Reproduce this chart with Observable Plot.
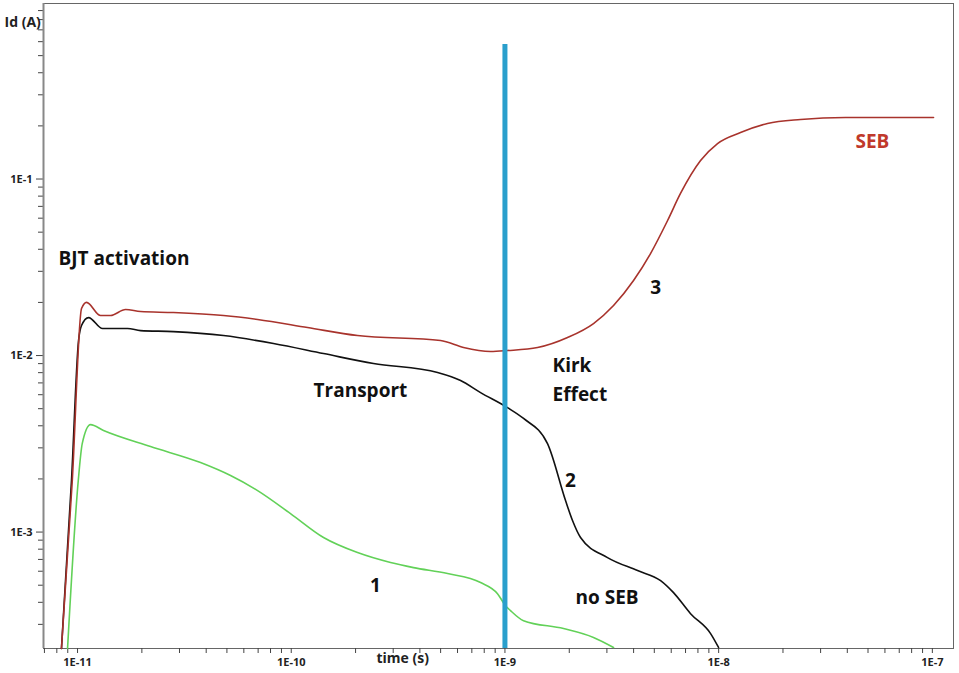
<!DOCTYPE html>
<html><head><meta charset="utf-8">
<script src="https://cdn.jsdelivr.net/npm/d3@7"></script>
<script src="https://cdn.jsdelivr.net/npm/@observablehq/plot@0.6"></script>
<style>body{margin:0;background:#fff}</style>
</head><body><div id="chart"></div>
<script>
// Curve 3 (SEB, red)
const redT = [8.41e-12, 9.45e-12, 1.044e-11, 1.102e-11, 1.281e-11, 1.427e-11, 1.678e-11, 1.972e-11, 2.812e-11, 4.82e-11, 6.96e-11, 1.192e-10, 2.042e-10, 4.996e-10, 6.40e-10, 8.56e-10, 1.028e-9, 1.421e-9, 1.963e-9, 2.597e-9, 3.223e-9, 3.998e-9, 4.80e-9, 5.77e-9, 6.63e-9, 8.23e-9, 9.88e-9, 1.266e-8, 1.693e-8, 2.416e-8, 3.926e-8, 1.013e-7];
const redI = [2.19e-4, 1.96e-3, 1.846e-2, 2.00e-2, 1.685e-2, 1.685e-2, 1.822e-2, 1.775e-2, 1.752e-2, 1.685e-2, 1.60e-2, 1.441e-2, 1.298e-2, 1.216e-2, 1.110e-2, 1.054e-2, 1.067e-2, 1.110e-2, 1.265e-2, 1.518e-2, 1.92e-2, 2.66e-2, 3.78e-2, 5.82e-2, 8.28e-2, 0.1273, 0.1589, 0.1834, 0.2063, 0.2174, 0.2231, 0.2231];
// Curve 2 (no SEB, black)
const blackT = [8.41e-12, 9.37e-12, 1.011e-11, 1.044e-11, 1.126e-11, 1.309e-11, 1.714e-11, 1.972e-11, 2.812e-11, 4.82e-11, 8.26e-11, 1.416e-10, 2.427e-10, 4.84e-10, 6.20e-10, 7.69e-10, 1.028e-9, 1.222e-9, 1.582e-9, 1.921e-9, 2.071e-9, 2.258e-9, 3.02e-9, 4.174e-9, 5.35e-9, 6.15e-9, 7.39e-9, 9.17e-9, 9.99e-9];
const blackI = [2.19e-4, 1.96e-3, 1.216e-2, 1.479e-2, 1.641e-2, 1.422e-2, 1.422e-2, 1.385e-2, 1.367e-2, 1.298e-2, 1.17e-2, 1.026e-2, 9.01e-3, 8.01e-3, 7.22e-3, 6.17e-3, 5.07e-3, 4.40e-3, 3.17e-3, 1.509e-3, 1.162e-3, 9.31e-4, 7.17e-4, 6.05e-4, 5.31e-4, 4.54e-4, 3.45e-4, 2.66e-4, 2.22e-4];
// Curve 1 (green)
const greenT = [8.98e-12, 1.008e-11, 1.052e-11, 1.15e-11, 1.323e-11, 2.196e-11, 3.763e-11, 5.20e-11, 6.96e-11, 9.92e-11, 1.416e-10, 2.043e-10, 2.915e-10, 3.735e-10, 5.39e-10, 7.69e-10, 9.23e-10, 1.006e-9, 1.062e-9, 1.222e-9, 1.880e-9, 2.597e-9, 3.223e-9];
const greenI = [2.19e-4, 1.96e-3, 3.17e-3, 4.06e-3, 3.76e-3, 3.05e-3, 2.476e-3, 2.09e-3, 1.718e-3, 1.273e-3, 9.31e-4, 7.65e-4, 6.72e-4, 6.29e-4, 5.82e-4, 5.18e-4, 4.48e-4, 3.83e-4, 3.59e-4, 3.15e-4, 2.84e-4, 2.53e-4, 2.22e-4];

// Vertical marker at 1 ns
const markerT = [1e-9];
const markerTop = [0.578];

// Tick labels
const xTickValues = [1e-11, 1e-10, 1e-9, 1e-8, 1e-7];
const xTickLabels = ["1E-11", "1E-10", "1E-9", "1E-8", "1E-7"];
const yTickValues = [1e-3, 1e-2, 1e-1];
const yTickLabels = ["1E-3", "1E-2", "1E-1"];

// Annotations
const annText = ["BJT activation", "Transport", "Kirk", "Effect", "2", "3", "1", "no SEB", "SEB"];
const annT = [8.15e-12, 1.272e-10, 1.67e-9, 1.67e-9, 2.028e-9, 5.07e-9, 2.48e-10, 2.14e-9, 4.37e-8];
const annI = [3.545e-2, 6.33e-3, 8.78e-3, 6.01e-3, 1.96e-3, 2.428e-2, 4.98e-4, 4.26e-4, 0.1631];
const annAnchor = ["start", "start", "start", "start", "middle", "middle", "middle", "start", "start"];
const annColor = ["#111", "#111", "#111", "#111", "#111", "#111", "#111", "#111", "#c0392b"];

const xDomain = [6.93e-12, 1.256e-7];
const yDomain = [2.19e-4, 0.987];

const toRows = (T, I) => T.map((t, i) => ({t, I: I[i]}));
const red = toRows(redT, redI);
const black = toRows(blackT, blackI);
const green = toRows(greenT, greenI);
const ann = annText.map((s, i) => ({s, t: annT[i], I: annI[i], anchor: annAnchor[i], color: annColor[i]}));

const xMinor = d3.scaleLog().domain(xDomain).ticks().filter(v => !xTickValues.some(m => Math.abs(m - v) / m < 1e-6));
const yMinor = d3.scaleLog().domain(yDomain).ticks().filter(v => !yTickValues.some(m => Math.abs(m - v) / m < 1e-6));
const xLab = new Map(xTickValues.map((v, i) => [v, xTickLabels[i]]));
const yLab = new Map(yTickValues.map((v, i) => [v, yTickLabels[i]]));

const font = "'Open Sans', sans-serif";

const chart = Plot.plot({
  width: 959,
  height: 673,
  marginLeft: 43,
  marginRight: 6,
  marginTop: 3,
  marginBottom: 25,
  style: {fontFamily: font, background: "#fff", overflow: "visible"},
  x: {type: "log", domain: xDomain, axis: null},
  y: {type: "log", domain: yDomain, axis: null},
  marks: [
    Plot.frame({stroke: "#666", strokeWidth: 1}),
    Plot.axisX(xMinor, {tickSize: 5, tickFormat: () => "", stroke: "#444", label: null}),
    Plot.axisX(xTickValues, {tickSize: 5, tickPadding: 5, tickFormat: d => xLab.get(d), fontSize: 11, fontWeight: "bold", fill: "#222", stroke: "#444", label: null}),
    Plot.axisY(yMinor, {tickSize: 5, tickFormat: () => "", stroke: "#444", label: null}),
    Plot.axisY(yTickValues, {tickSize: 7, tickPadding: 4, tickFormat: d => yLab.get(d), fontSize: 11, fontWeight: "bold", fill: "#222", stroke: "#444", label: null}),
    Plot.ruleX([0], {x: () => xDomain[0], stroke: "#888", strokeWidth: 2}),
    Plot.line(green, {x: "t", y: "I", stroke: "#62d158", strokeWidth: 1.6, curve: "monotone-x"}),
    Plot.line(black, {x: "t", y: "I", stroke: "#111", strokeWidth: 1.6, curve: "monotone-x"}),
    Plot.line(red, {x: "t", y: "I", stroke: "#a8332c", strokeWidth: 1.6, curve: "monotone-x"}),
    Plot.ruleX(markerT, {x: d => d, y1: yDomain[0], y2: (d, i) => markerTop[i], stroke: "#2a9fcc", strokeWidth: 5}),
    Plot.text(ann.filter(d => d.anchor === "start"), {x: "t", y: "I", text: "s", textAnchor: "start", fill: "color", fontSize: 19, fontWeight: "bold"}),
    Plot.text(ann.filter(d => d.anchor === "middle"), {x: "t", y: "I", text: "s", textAnchor: "middle", fill: "color", fontSize: 19, fontWeight: "bold"}),
    Plot.text(["Id (A)"], {frameAnchor: "top-left", dx: -39, dy: 14, textAnchor: "start", fontSize: 14, fontWeight: "bold", fill: "#222"}),
    Plot.text(["time (s)"], {frameAnchor: "bottom-left", dx: 333, dy: 14, textAnchor: "start", fontSize: 14, fontWeight: "bold", fill: "#222"})
  ]
});
document.getElementById("chart").appendChild(chart);
</script>
</body></html>
